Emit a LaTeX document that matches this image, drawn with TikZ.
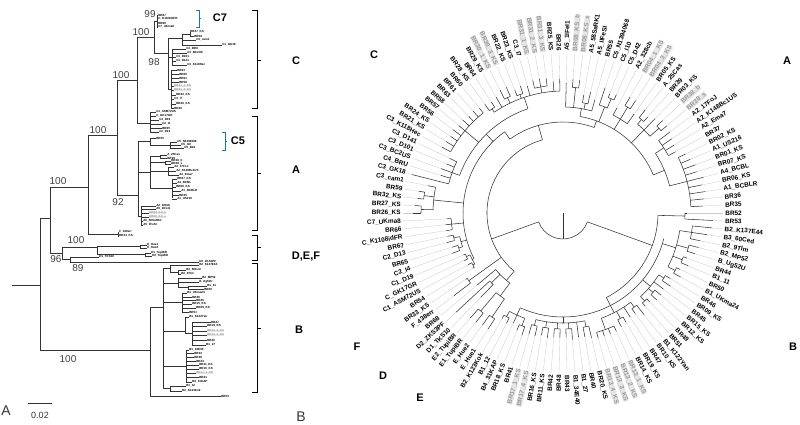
\documentclass[tikz,border=0pt]{standalone}
\usepackage{fontspec}
\setmainfont{Liberation Sans}
\usetikzlibrary{positioning}
\tikzstyle{branch}=[draw=black!80, line width=0.55pt]
\tikzstyle{leader}=[draw=black!20, line width=0.35pt]
\tikzstyle{ringleaf}=[font=\fontsize{6.4}{7}\selectfont\bfseries, inner sep=0.2pt, text=black]
\tikzstyle{tipleaf}=[font=\fontsize{3}{3.2}\selectfont\bfseries, anchor=west, inner sep=0pt]
\tikzstyle{hl0}=[]
\tikzstyle{hl1}=[fill=black!10, text=black!40]
\tikzstyle{support}=[font=\fontsize{10}{10}\selectfont, text=black!75, inner sep=0pt]
\tikzstyle{clade}=[font=\fontsize{11}{11}\selectfont\bfseries, inner sep=0pt]
\tikzstyle{panel}=[font=\fontsize{14}{14}\selectfont, text=black!80, inner sep=0pt]
\tikzstyle{bracket}=[draw=black, line width=0.6pt]
\tikzstyle{bluebracket}=[draw=cyan!55!blue, line width=0.6pt]
\def\angstep{2.857143}
% arc of a clade (from p1 to p2, index units) at radius r, stem at pm from r0
\newcommand{\clade}[5]{%
  \draw[branch] ({#1*\angstep}:#5) arc[start angle={#1*\angstep}, end angle={#2*\angstep}, radius=#5];
  \draw[branch] ({#3*\angstep}:#4) -- ({#3*\angstep}:#5);}

\begin{document}
\begin{tikzpicture}[x=1pt, y=-1pt]
\useasboundingbox (0,0) rectangle (800,425);

% ---------- panel A: rectangular tree
\draw[branch] (12,285) -- (40,285) (40,218) -- (40,350) (40,218) -- (50,218);
\draw[branch] (50,187) -- (50,253) (50,187) -- (88,187);
\draw[branch] (88,135) -- (88,234) (88,135) -- (117,135);
\draw[branch] (117,80) -- (117,195) (117,80) -- (137,80);
% C
\draw[branch] (137,37) -- (137,123) (137,37) -- (154,37);
\draw[branch] (154,21) -- (154,53) (154,21) -- (157,21) (157,15) -- (157,27);
\foreach \y/\lb in {15/BR67,19/C\_K1108idFR,23/BR66,27/C7\_UKma8}
  \draw[branch] (157,\y) -- (158,\y) node[tipleaf] {\lb};
\draw[branch] (154,53) -- (168,53) (168,38) -- (168,89);
\draw[branch] (168,38) -- (182,38) (182,34) -- (182,45) (182,34) -- (190,34) (190,32) -- (190,36);
\foreach \y/\t/\lb in {32/190/BR27\_KS,36/194/BR59}
  \draw[branch] (190,\y) -- (\t,\y) node[tipleaf] {\lb};
\foreach \y/\t/\lb in {40/196/C3\_cam1,45/222/C1\_GK18}
  \draw[branch] (182,\y) -- (\t,\y) node[tipleaf] {\lb};
\draw[branch] (168,57) -- (172,57) (172,49) -- (172,65);
\foreach \y/\t/\lb in {49/186/C4\_BRU,53/187/C3\_BC2US,57/176/C3\_D101,61/176/C3\_D141,65/187/C3\_K118Hec}
  \draw[branch] (172,\y) -- (\t,\y) node[tipleaf] {\lb};
\draw[branch] (168,89) -- (171,89) (171,70) -- (171,108);
\foreach \y/\t/\lb/\g in {70/177/BR63/0,74/179/BR60/0,78/179/BR61/0,82/179/BR58/0,86/174/BR31\_1\_KS/1,90/174/BR31\_2\_KS/1,95/176/BR22\_KS/0,99/174/C3\_I7/0,104/176/BR26\_KS/0,108/174/BR26/0}
  \draw[branch] (171,\y) -- (\t,\y) node[tipleaf, hl\g] {\lb};
\draw[branch] (137,123) -- (150,123) (150,112) -- (150,132);
\foreach \y/\t/\lb in {112/156/C1\_ASM72US,116/156/C\_GK17GR,120/159/C4\_D19,124/162/C2\_I4,128/162/BR65,132/159/C2\_D13}
  \draw[branch] (150,\y) -- (\t,\y) node[tipleaf] {\lb};
% A
\draw[branch] (117,195) -- (138,195) (138,141) -- (138,216);
\draw[branch] (138,141) -- (150,141) (150,138) -- (150,145);
\draw[branch] (150,138) -- (156,138) node[tipleaf] {BR55};
\draw[branch] (150,145) -- (170,145) (170,142) -- (170,148);
\foreach \y/\t/\lb in {142/177/C5\_N1394068,145/181/C5\_I10,148/184/C5\_D42}
  \draw[branch] (170,\y) -- (\t,\y) node[tipleaf] {\lb};
\draw[branch] (138,172) -- (150,172) (150,156.5) -- (150,188.5);
\draw[branch] (150,156.5) -- (160,156.5) (160,155) -- (160,158);
\foreach \y/\lb in {155/A\_25Cas,158/BR39}
  \draw[branch] (160,\y) -- (167,\y) node[tipleaf] {\lb};
\draw[branch] (150,162.5) -- (165,162.5) (165,161) -- (165,164);
\foreach \y/\lb in {161/BR38\_b,164/BR38\_s}
  \draw[branch] (165,\y) -- (171,\y) node[tipleaf] {\lb};
\draw[branch] (150,171) -- (168,171) (168,167) -- (168,175);
\foreach \y/\t/\lb in {167/174/A2\_17FoJ,171/176/A2\_K148Bc1US,175/179/A2\_Ema7}
  \draw[branch] (168,\y) -- (\t,\y) node[tipleaf] {\lb};
\draw[branch] (150,188.5) -- (172,188.5) (172,179) -- (172,198);
\foreach \y/\t/\lb in {179/177/BR07\_KS,183/177/A4\_BCBL,187/176/BR06\_KS,191/181/A1\_BCBLR,195/179/BR35,199/177/A1\_US216}
  \draw[branch] (172,\y) -- (\t,\y) node[tipleaf] {\lb};
\draw[branch] (138,216) -- (141,216) (141,206) -- (141,225);
\foreach \y/\t/\lb/\g in {206/156/A2\_328cb/0,209/156/A5\_1IFeI1/0,213/149/BR08\_KS\_b/1,217/149/BR08\_KS\_s/1,221/143/A5\_58SaRK1/0,225/143/A5\_IIFeSI/0}
  \draw[branch] (141,\y) -- (\t,\y) node[tipleaf, hl\g] {\lb};
% F
\draw[branch] (88,234) -- (118,234) (118,232) -- (118,236);
\foreach \y/\lb in {232/F\_438err,236/BR33\_KS}
  \draw[branch] (118,\y) -- (119,\y) node[tipleaf] {\lb};
% D, E
\draw[branch] (50,253) -- (62,253) (62,247) -- (62,259.5);
\draw[branch] (62,247) -- (97,247) (97,246.5) -- (97,254.5);
\draw[branch] (97,246.5) -- (140,246.5) (140,245) -- (140,248);
\draw[branch] (97,254.5) -- (145,254.5) (145,253) -- (145,256);
\foreach \y/\lb in {245/E\_Hue1,248/E\_Hue2}
  \draw[branch] (140,\y) -- (147,\y) node[tipleaf] {\lb};
\foreach \y/\t/\lb in {253/151/E1\_TupiBR,256/152/E2\_TupiBR}
  \draw[branch] (145,\y) -- (\t,\y) node[tipleaf] {\lb};
\draw[branch] (62,259.5) -- (70,259.5) (70,257) -- (70,262);
\draw[branch] (70,257) -- (99,257) node[tipleaf] {D1\_TKS10};
\draw[branch] (70,262) -- (199,262) node[tipleaf] {D2\_ZKS3PF};
% B
\draw[branch] (40,350) -- (150,350) (150,307) -- (150,396);
\draw[branch] (150,396) -- (221,396) node[tipleaf] {BR53};
\draw[branch] (150,307) -- (163,307) (163,268.5) -- (163,388.5);
\draw[branch] (163,268.5) -- (170,268.5) (170,265) -- (170,272) (170,272) -- (178,272) (178,270) -- (178,274);
\draw[branch] (170,265) -- (199,265) node[tipleaf] {B2\_K137E44};
\draw[branch] (178,270) -- (186,270) node[tipleaf] {B3\_60Ced};
\draw[branch] (178,274) -- (181,274) node[tipleaf] {B2\_9Tlm};
\draw[branch] (163,283) -- (178,283) (178,278) -- (178,287.5) (178,287.5) -- (188,287.5) (188,286) -- (188,289);
\draw[branch] (178,278) -- (202,278) node[tipleaf] {B2\_MP52};
\draw[branch] (178,282) -- (199,282) node[tipleaf] {B\_Ug52U};
\draw[branch] (188,286) -- (207,286) node[tipleaf] {B1\_11};
\draw[branch] (188,289) -- (204,289) node[tipleaf] {BR50};
\draw[branch] (163,302) -- (182,302) (182,293) -- (182,312);
\foreach \y/\t/\lb in {293/187/B1\_UKma24,297/192/BR46,300/196/BR45,304/192/BR15\_KS,308/196/BR09\_KS,312/189/BR51}
  \draw[branch] (182,\y) -- (\t,\y) node[tipleaf] {\lb};
\draw[branch] (163,331) -- (185,331) (185,317) -- (185,333.5) (185,333.5) -- (192,333.5) (192,322) -- (192,345);
\draw[branch] (185,317) -- (189,317) node[tipleaf] {B1\_K122Yan};
\foreach \y/\t/\lb/\g in {322/211/BR47/0,326/207/BR19\_KS/0,331/207/BR13\_4\_KS/1,335/207/BR13\_1\_KS/1,340/207/BR40/0,345/206/B1\_27/0}
  \draw[branch] (192,\y) -- (\t,\y) node[tipleaf, hl\g] {\lb};
\draw[branch] (163,366) -- (186,366) (186,350) -- (186,382);
\foreach \y/\t/\lb/\g in {350/189/B1\_34E40/0,353.5/194/BR42/0,357/194/BR48/0,361/196/BR43/0,365/199/BR11\_KS/0,369/199/BR16\_KS/0,373/196/BR17\_1\_KS/1,377/199/BR41/0,382/192/B4\_31KAP/0}
  \draw[branch] (186,\y) -- (\t,\y) node[tipleaf, hl\g] {\lb};
\draw[branch] (163,388.5) -- (170,388.5) (170,386) -- (170,391);
\foreach \y/\t/\lb in {386/186/B1\_12,391/182/B2\_K123Kok}
  \draw[branch] (170,\y) -- (\t,\y) node[tipleaf] {\lb};

% support values
\node[support] (s99) at (150,14) {99};
\node[support] (s100c) at (141,32) {100};
\node[support] (s98) at (154,62) {98};
\node[support] (s100x) at (121,75) {100};
\node[support] (s100ac) at (98,130) {100};
\node[support] (s100t) at (58,181) {100};
\node[support] (s92) at (118,202) {92};
\node[support] (s100e) at (76,240) {100};
\node[support] (s96) at (56,259) {96};
\node[support] (s89) at (78,268) {89};
\node[support] (s100b) at (68,359) {100};

% clade brackets
\draw[bracket] (252,10) -- (257,10) -- (257,108) -- (252,108) (257,60) -- (261,60);
\draw[bracket] (252,116) -- (257,116) -- (257,230) -- (252,230) (257,173) -- (261,173);
\draw[bracket] (252,235) -- (257,235) -- (257,260) -- (252,260) (257,247) -- (261,247);
\draw[bracket] (252,263) -- (257,263) -- (257,392) -- (252,392) (257,328) -- (261,328);
\draw[bluebracket] (196,10) -- (199,10) -- (199,27) -- (196,27) (199,18.5) -- (201,18.5);
\draw[bluebracket] (222,132) -- (225,132) -- (225,150) -- (222,150) (225,141) -- (227,141);
\node[clade] (lC7) at (220,18) {C7};
\node[clade] (lC5) at (238,141) {C5};
\node[clade] (lC) at (296,61) {C};
\node[clade] (lA) at (296,170) {A};
\node[clade] (lDEF) at (306,257) {D,E,F};
\node[clade] (lB) at (299,330) {B};

% scale bar and panel letters
\coordinate (sbm) at (40,403);
\draw[branch] (28,403) -- (52,403);
\node[font=\fontsize{9}{9}\selectfont, text=black!80, below=6pt of sbm] (sbl) {0.02};
\node[panel] (pA) at (6,411) {A};
\node[panel] (pB) at (301,417) {B};

% ---------- panel B: circular tree
\begin{scope}[shift={(563,213)}, y=1pt]
\draw[branch] (0,0) -- (270:26);
\draw[branch] (200:26) arc[start angle=200, end angle=340, radius=26];
% B side
\clade{104}{125.5}{119}{26}{95}
\clade{125}{126}{125.5}{95}{122}
\clade{86}{121}{104}{95}{104}
\clade{84.5}{87.5}{86}{104}{112}
\clade{84}{85}{84.5}{112}{118}
\clade{87}{88}{87.5}{112}{120}
\clade{89.5}{98.5}{94.5}{104}{110}
\clade{89}{90}{89.5}{110}{116}
\clade{91}{92}{91.5}{110}{116}
\clade{93}{94}{93.5}{110}{116}
\clade{95}{96}{95.5}{110}{116}
\clade{98}{99}{98.5}{110}{116}
\clade{101.5}{107.5}{104}{104}{112}
\clade{100}{103}{101.5}{112}{124}
\clade{104}{105}{104.5}{112}{120}
\clade{107}{108}{107.5}{112}{118}
\clade{109.5}{114.5}{112}{104}{114}
\clade{109}{110}{109.5}{114}{120}
\clade{111}{112}{111.5}{114}{120}
\clade{114}{115}{114.5}{114}{120}
\clade{116.5}{123}{120}{104}{118}
\clade{116}{117}{116.5}{118}{126}
\clade{118}{119}{118.5}{118}{128}
\clade{120}{121}{120.5}{118}{130}
\clade{122}{124}{123}{118}{130}
% the rest
\clade{37}{80.5}{70}{26}{76}
\clade{77}{81.5}{80.5}{76}{88}
\clade{78}{79}{78.5}{88}{100}
\clade{80.5}{82.5}{81.5}{88}{104}
\clade{80}{81}{80.5}{104}{128}
\clade{82}{83}{82.5}{104}{126}
\clade{75}{76}{75.5}{76}{116}
\clade{24.5}{44}{37}{76}{91}
\clade{44}{72.5}{44}{91}{100}
\clade{38}{56}{47}{100}{110}
\clade{32}{43.5}{38}{110}{122}
\clade{34}{36}{35}{122}{128}
\clade{38}{39}{38.5}{122}{126}
\clade{40}{41}{40.5}{122}{128}
\clade{43}{44}{43.5}{122}{126}
\clade{45}{53}{49}{110}{128}
\clade{54}{58}{56}{110}{118}
\clade{59}{62.5}{61}{100}{130}
\clade{60}{61}{60.5}{130}{140}
\clade{62}{63}{62.5}{130}{142}
\clade{64}{66}{65}{100}{112}
\clade{67.5}{69.5}{68.5}{100}{106}
\clade{67}{68}{67.5}{106}{112}
\clade{69}{70}{69.5}{106}{110}
\clade{71.5}{73.5}{72.5}{100}{102}
\clade{71}{72}{71.5}{102}{106}
\clade{73}{74}{73.5}{102}{104}
\clade{8}{28}{24.5}{91}{98}
\clade{5}{11.5}{8}{98}{110}
\clade{1}{9}{5}{110}{128}
\clade{10}{13}{11.5}{110}{120}
\clade{14.5}{17.5}{16}{98}{116}
\clade{14}{15}{14.5}{116}{128}
\clade{17}{18}{17.5}{116}{122}
\clade{19}{22}{20.5}{98}{110}
\clade{20}{21}{20.5}{110}{124}
\clade{23.5}{25}{24}{98}{114}
\clade{23}{24}{23.5}{114}{124}
\clade{26}{31}{28}{98}{106}
\clade{27}{28}{27.5}{106}{112}
\clade{29}{30}{29.5}{106}{126}
% leaves: name / parent radius / tip radius / grey
\foreach \nm/\pr/\tp/\hl [count=\i from 0] in {BR52/122/124/0, BR35/128/140/0, BR36/128/142/0, A1\_BCBLR/128/144/0, BR06\_KS/128/142/0, A4\_BCBL/128/145/0, BR07\_KS/128/140/0, BR01\_KS/128/141/0, A1\_US216/128/138/0, BR02\_KS/128/136/0,
  BR37/120/128/0, A2\_Ema7/120/130/0, A2\_K148Bc1US/120/132/0, A2\_17FoJ/120/134/0, BR38\_s/128/136/1, BR38\_b/128/136/1, BR03\_KS/116/132/0, BR39/122/128/0, A\_25Cas/122/132/0, BR05\_KS/110/122/0,
  BR04\_3\_KS/124/134/1, BR04\_1\_KS/124/134/1, A2\_328cb/110/118/0, C5\_D42/124/130/0, C5\_I10/124/128/0, C5\_N1394068/114/132/0, BR55/106/118/0, A5\_IIFeSI/112/124/0, A5\_58SaRK1/112/120/0, BR08\_KS\_s/126/134/1,
  BR08\_KS\_b/126/134/1, A5\_1IFeI1/106/130/0, BR26/122/134/0, BR25\_KS/122/132/0, BR31\_3\_KS/128/136/1, BR31\_2\_KS/128/136/1, BR31\_1\_KS/128/136/1, C3\_I7/122/132/0, BR23\_KS/126/134/0, BR22\_KS/126/132/0,
  BR30\_3\_KS/128/138/1, BR30\_1\_KS/128/138/1, BR29\_KS/122/134/0, BR64/126/132/0, BR28\_KS/126/134/0, BR60/128/134/0, BR61/128/136/0, BR63/128/135/0, BR58/128/137/0, BR57/128/136/0,
  BR56/128/138/0, BR24\_KS/128/136/0, BR21\_KS/128/137/0, C3\_K118Hec/128/138/0, C3\_D141/118/126/0, C3\_D101/118/126/0, C3\_BC2US/118/130/0, C4\_BRU/118/128/0, C3\_GK18/118/156/0, C3\_cam1/130/138/0,
  BR59/140/146/0, BR32\_KS/140/146/0, BR27\_KS/142/148/0, BR26\_KS/142/150/0, C7\_UKma8/112/116/0, BR66/112/118/0, C\_K1108idFR/112/118/0, BR67/112/118/0, C2\_D13/112/120/0, BR65/110/116/0,
  C2\_I4/110/118/0, C1\_D19/106/108/0, C\_GK17GR/106/110/0, C1\_ASM72US/104/108/0, BR54/104/106/0, BR33\_KS/116/118/0, F\_438err/116/137/0, BR68/88/112/0, D2\_ZKS3PF/100/146/0, D1\_TKS10/100/118/0,
  E2\_TupiBR/128/140/0, E1\_TupiBR/128/140/0, E\_Hue2/126/138/0, E\_Hue1/126/138/0, B2\_K123Kok/118/122/0, B1\_12/118/124/0, B4\_31KAP/112/121/0, BR18\_KS/120/126/0, BR41/120/129/0, BR17\_1\_KS/116/126/1,
  BR17\_4\_KS/116/126/1, BR16\_KS/116/124/0, BR11\_KS/116/126/0, BR42/116/124/0, BR48/116/125/0, BR43/116/124/0, B1\_34E40/116/127/0, B1\_27/110/125/0, BR40/116/126/0, BR20\_KS/116/128/0,
  BR13\_4\_KS/124/130/1, BR13\_3\_KS/124/130/1, BR13\_2\_KS/124/130/1, BR13\_1\_KS/124/130/1, BR14\_KS/120/128/0, BR19\_KS/120/126/0, BR47/112/124/0, BR10\_KS/118/124/0, B1\_K122Yan/118/130/0, BR51/120/124/0,
  BR49/120/124/0, BR12\_KS/120/128/0, BR15\_KS/120/128/0, BR45/114/126/0, BR09\_KS/120/130/0, BR46/120/126/0, B1\_UKma24/126/134/0, BR50/126/130/0, B1\_11/128/136/0, BR44/128/132/0,
  B\_Ug52U/130/138/0, B2\_MP52/130/140/0, B2\_9Tlm/130/140/0, B3\_60Ced/130/146/0, B2\_K137E44/130/150/0, BR53/122/150/0}
{
  \pgfmathsetmacro\ang{\i*\angstep}
  \pgfmathtruncatemacro\lft{(\ang>90)*(\ang<270)}
  \draw[branch] (\ang:\pr) -- (\ang:\tp);
  \draw[leader] (\ang:\tp) -- (\ang:160);
  \ifnum\lft=1
    \node[ringleaf, hl\hl, anchor=east, rotate=\ang-180] (lf\i) at (\ang:162) {\nm};
  \else
    \node[ringleaf, hl\hl, anchor=west, rotate=\ang] (lf\i) at (\ang:162) {\nm};
  \fi
}
\end{scope}

% clade letters of panel B
\node[clade] (rC) at (374,55) {C};
\node[clade] (rA) at (787,61) {A};
\node[clade] (rB) at (793,347) {B};
\node[clade] (rF) at (357,347) {F};
\node[clade] (rD) at (383,376) {D};
\node[clade] (rE) at (420,398) {E};
\end{tikzpicture}
\end{document}
